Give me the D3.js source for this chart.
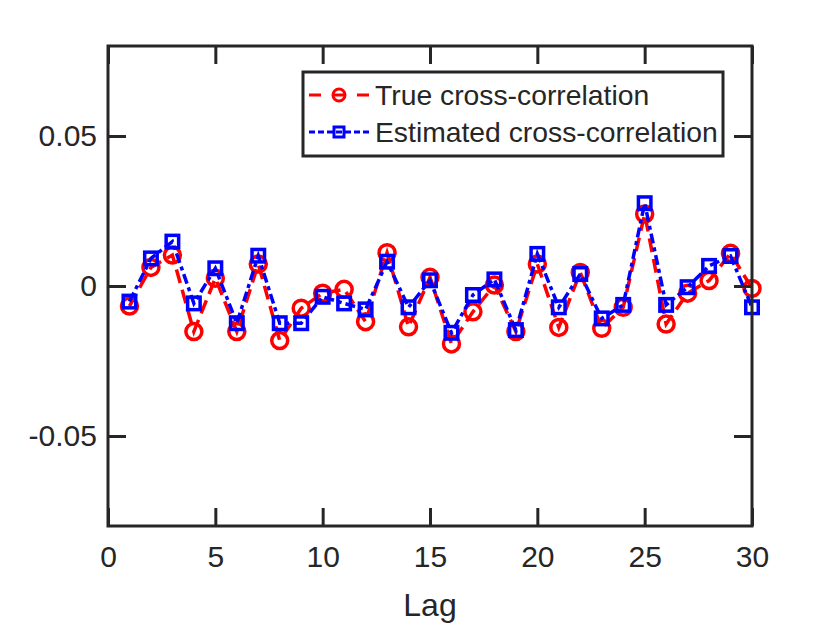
<!DOCTYPE html>
<html>
<head>
<meta charset="utf-8">
<script src="https://cdn.jsdelivr.net/npm/d3@7"></script>
<style>
  body { margin: 0; background: #fff; }
  text { font-family: "Liberation Sans", Arial, sans-serif; fill: #262626; }
</style>
</head>
<body>
<div id="graph"></div>
<script>
// data
const lags = [1, 2, 3, 4, 5, 6, 7, 8, 9, 10, 11, 12, 13, 14, 15,
  16, 17, 18, 19, 20, 21, 22, 23, 24, 25, 26, 27, 28, 29, 30];
const trueCorr = [-0.0067, 0.0062, 0.0103, -0.0152, 0.0026, -0.0152, 0.0073, -0.0182, -0.0074, -0.0024,
  -0.0011, -0.0119, 0.0111, -0.0136, 0.0029, -0.0193, -0.0086, 0.0003, -0.0152, 0.0073,
  -0.0138, 0.0045, -0.0141, -0.0071, 0.0240, -0.0127, -0.0024, 0.0018, 0.0109, -0.0008];
const estCorr = [-0.0052, 0.0092, 0.0148, -0.0058, 0.0059, -0.0124, 0.0101, -0.0124, -0.0124, -0.0036,
  -0.0058, -0.0078, 0.0081, -0.0071, 0.0019, -0.0156, -0.0030, 0.0022, -0.0147, 0.0107,
  -0.0071, 0.0040, -0.0108, -0.0063, 0.0276, -0.0063, -0.0004, 0.0067, 0.0100, -0.0071];
const xTicks = [0, 5, 10, 15, 20, 25, 30];
const yTicks = [-0.05, 0, 0.05];
const yTickLabels = ["-0.05", "0", "0.05"];
const seriesNames = ["True cross-correlation", "Estimated cross-correlation"];

const width = 830;
const height = 623;
const margin = { left: 108, right: 78, top: 46, bottom: 97 };
const axisColor = "#262626";
const red = "#ff0000";
const blue = "#0000ff";
const tickLen = 18;
const redDash = '14,7';
const blueDash = '10,4,4,4';

let svg = d3.select('#graph')
  .append('svg')
  .attr('width', width)
  .attr('height', height);

let xScale = d3.scaleLinear()
  .domain([0, 30])
  .range([margin.left, width - margin.right]);

let yScale = d3.scaleLinear()
  .domain([-0.08, 0.08])
  .range([height - margin.bottom, margin.top]);

let data = lags.map((l, i) => ({ lag: l, t: trueCorr[i], e: estCorr[i] }));

// series
let lineTrue = d3.line().x(d => xScale(d.lag)).y(d => yScale(d.t));
let lineEst = d3.line().x(d => xScale(d.lag)).y(d => yScale(d.e));

svg.append('path')
  .datum(data)
  .attr('fill', 'none')
  .attr('stroke', red)
  .attr('stroke-width', 3.5)
  .attr('stroke-dasharray', redDash)
  .attr('d', lineTrue);

svg.selectAll('.dot')
  .data(data)
  .enter()
  .append('circle')
  .attr('class', 'dot')
  .attr('cx', d => xScale(d.lag))
  .attr('cy', d => yScale(d.t))
  .attr('r', 8)
  .attr('fill', 'none')
  .attr('stroke', red)
  .attr('stroke-width', 3.5);

svg.append('path')
  .datum(data)
  .attr('fill', 'none')
  .attr('stroke', blue)
  .attr('stroke-width', 3.5)
  .attr('stroke-dasharray', blueDash)
  .attr('d', lineEst);

let sq = 12.5;
svg.selectAll('.sq')
  .data(data)
  .enter()
  .append('rect')
  .attr('class', 'sq')
  .attr('x', d => xScale(d.lag) - sq / 2)
  .attr('y', d => yScale(d.e) - sq / 2)
  .attr('width', sq)
  .attr('height', sq)
  .attr('fill', 'none')
  .attr('stroke', blue)
  .attr('stroke-width', 3.5);

// axes: box with inward ticks on all sides
let axis = svg.append('g').attr('class', 'axis');
let x0 = xScale.range()[0], x1 = xScale.range()[1];
let y0 = yScale.range()[0], y1 = yScale.range()[1];

let bottomAxis = d3.axisBottom(xScale)
  .tickValues(xTicks)
  .tickSizeInner(-tickLen)
  .tickSizeOuter(0)
  .tickPadding(20);
let topAxis = d3.axisTop(xScale)
  .tickValues(xTicks)
  .tickSizeInner(-tickLen)
  .tickSizeOuter(0)
  .tickFormat('');
let leftAxis = d3.axisLeft(yScale)
  .tickValues(yTicks)
  .tickSizeInner(-tickLen)
  .tickSizeOuter(0)
  .tickPadding(11)
  .tickFormat((d, i) => yTickLabels[i]);
let rightAxis = d3.axisRight(yScale)
  .tickValues(yTicks)
  .tickSizeInner(-tickLen)
  .tickSizeOuter(0)
  .tickFormat('');

axis.append('g').attr('transform', `translate(0, ${y0})`).call(bottomAxis);
axis.append('g').attr('transform', `translate(0, ${y1})`).call(topAxis);
axis.append('g').attr('transform', `translate(${x0}, 0)`).call(leftAxis);
axis.append('g').attr('transform', `translate(${x1}, 0)`).call(rightAxis);

axis.selectAll('.domain').remove();
axis.selectAll('.tick line')
  .attr('stroke', axisColor)
  .attr('stroke-width', 3);
axis.selectAll('.tick text')
  .style('font-size', '30px')
  .style('font-family', '"Liberation Sans", Arial, sans-serif')
  .attr('fill', axisColor);

axis.append('rect')
  .attr('x', x0)
  .attr('y', y1)
  .attr('width', x1 - x0)
  .attr('height', y0 - y1)
  .attr('fill', 'none')
  .attr('stroke', axisColor)
  .attr('stroke-width', 3);

// x axis title
axis.append('text')
  .attr('text-anchor', 'middle')
  .attr('x', (x0 + x1) / 2)
  .attr('y', 616)
  .style('font-size', '32px')
  .text('Lag');

// legend
let legend = svg.append('g').attr('class', 'legend');
legend.append('rect')
  .attr('x', 303)
  .attr('y', 72)
  .attr('width', 420)
  .attr('height', 84)
  .attr('fill', '#fff')
  .attr('stroke', axisColor)
  .attr('stroke-width', 3);

let rows = [95, 132];
// true row
legend.append('line')
  .attr('x1', 309).attr('x2', 369)
  .attr('y1', rows[0]).attr('y2', rows[0])
  .attr('stroke', red).attr('stroke-width', 3)
  .attr('stroke-dasharray', '12,12');
legend.append('circle')
  .attr('cx', 339).attr('cy', rows[0]).attr('r', 6)
  .attr('fill', 'none').attr('stroke', red).attr('stroke-width', 3);
// estimated row
legend.append('line')
  .attr('x1', 309).attr('x2', 369)
  .attr('y1', rows[1]).attr('y2', rows[1])
  .attr('stroke', blue).attr('stroke-width', 3)
  .attr('stroke-dasharray', '6,3');
legend.append('rect')
  .attr('x', 339 - 5).attr('y', rows[1] - 5)
  .attr('width', 10).attr('height', 10)
  .attr('fill', 'none').attr('stroke', blue).attr('stroke-width', 3);

legend.selectAll('.legend-label')
  .data(seriesNames)
  .enter()
  .append('text')
  .attr('class', 'legend-label')
  .attr('x', 375)
  .attr('y', (d, i) => rows[i])
  .attr('dy', '0.36em')
  .style('font-size', '28.3px')
  .text(d => d);
</script>
</body>
</html>
